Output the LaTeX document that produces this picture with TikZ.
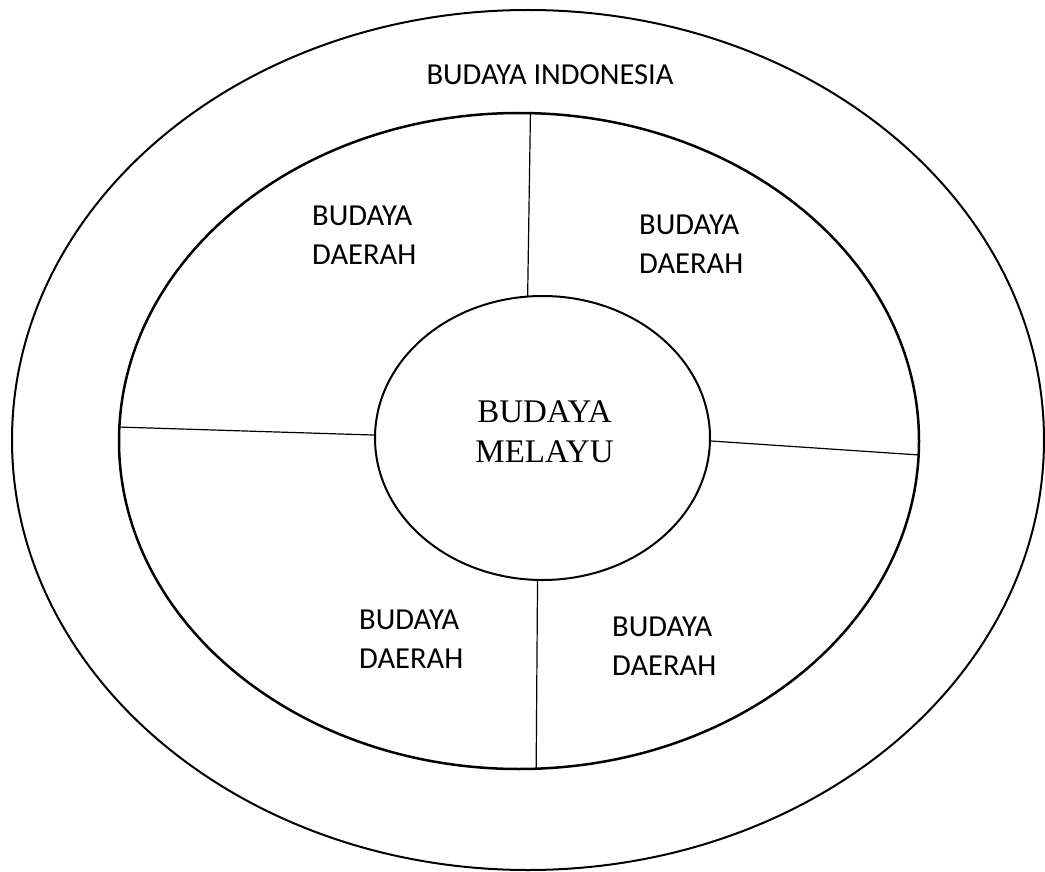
\documentclass[tikz,border=0pt]{standalone}
\usepackage{fontspec}
\setmainfont{Carlito}
\newfontfamily\serifmel{Liberation Serif}
\usetikzlibrary{shapes.geometric}
\begin{document}
\begin{tikzpicture}[x=1pt,y=-1pt,
  ring/.style={draw=black,shape=ellipse,inner sep=0pt,outer sep=0pt},
  divider/.style={draw=black,line width=1.2pt},
  lbl/.style={anchor=base west,inner sep=0pt,font=\fontsize{30.5}{39}\selectfont,align=left},
  core/.style={anchor=base,inner sep=0pt,font=\serifmel\fontsize{33}{40}\selectfont,align=center}]
\useasboundingbox (0,0) rectangle (1045,872);
\node[ring,line width=2pt,minimum width=1032pt,minimum height=860pt] (outer) at (528,440) {};
\node[ring,line width=2.5pt,minimum width=800pt,minimum height=656pt] (middle) at (519,441) {};
\node[ring,line width=2pt,minimum width=335pt,minimum height=284pt] (inner) at (542.5,438) {};
\draw[divider] (inner.96.2) -- (middle.88.6);
\draw[divider] (inner.268.2) -- (middle.273.3);
\draw[divider] (inner.179.7) -- (middle.178.0);
\draw[divider] (inner.359.0) -- (middle.358.9);
\node[lbl,anchor=base] (indo) at (550,85) {BUDAYA INDONESIA};
\node[lbl] (d1) at (312,264) {BUDAYA\\DAERAH};
\node[lbl] (d2) at (639,273) {BUDAYA\\DAERAH};
\node[lbl] (d3) at (359,668) {BUDAYA\\DAERAH};
\node[lbl] (d4) at (612,675) {BUDAYA\\DAERAH};
\node[core] (mel) at (544.5,462) {BUDAYA\\MELAYU};
\end{tikzpicture}
\end{document}
